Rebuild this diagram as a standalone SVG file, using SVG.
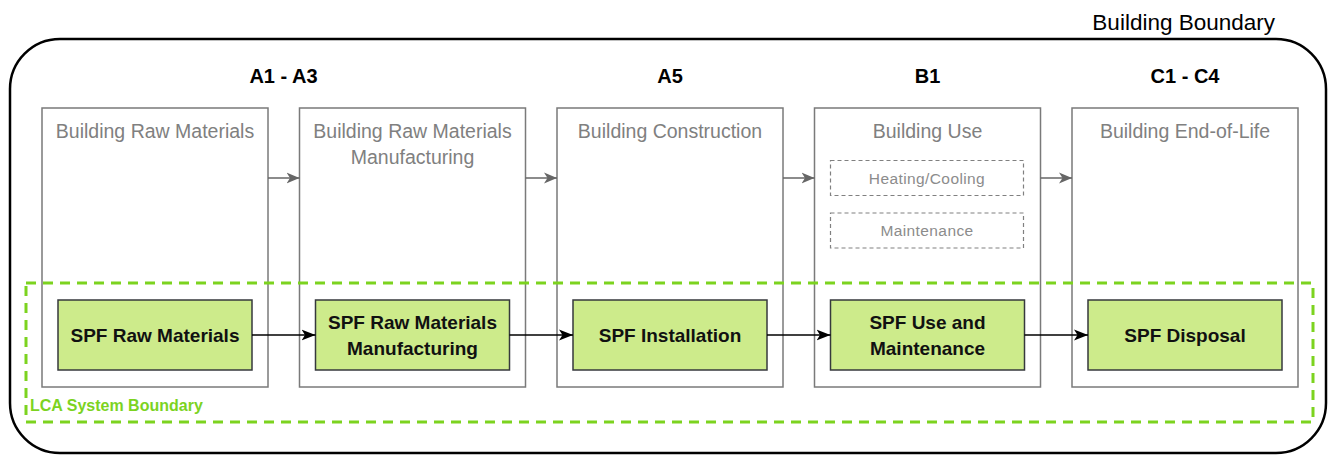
<svg xmlns="http://www.w3.org/2000/svg" width="1330" height="456" viewBox="0 0 1330 456">
<style>
.stage{fill:#ffffff;stroke:#7a7a7a;stroke-width:1.5}
.stitle{font-family:"Liberation Sans",Arial,sans-serif;font-size:19.5px;fill:#808080;text-anchor:middle}
.phase{font-family:"Liberation Sans",Arial,sans-serif;font-size:20px;font-weight:bold;fill:#000000;text-anchor:middle}
.spf{fill:#cdeb8b;stroke:#36393d;stroke-width:1.5}
.spft{font-family:"Liberation Sans",Arial,sans-serif;font-size:19px;font-weight:bold;fill:#111111;text-anchor:middle}
.sub{fill:none;stroke:#808080;stroke-width:1.2;stroke-dasharray:4 3}
.subt{font-family:"Liberation Sans",Arial,sans-serif;font-size:15.5px;fill:#8c8c8c;text-anchor:middle;letter-spacing:0.4px}
.garrow{stroke:#666666;stroke-width:1.5;fill:none}
.barrow{stroke:#000000;stroke-width:1.5;fill:none}
</style>
<defs>
<marker id="ah-gray" markerUnits="userSpaceOnUse" markerWidth="14" markerHeight="12" refX="13" refY="6" orient="auto">
<path d="M0,0.5 L13,6 L0,11.5 L3.5,6 Z" fill="#666666"/>
</marker>
<marker id="ah-black" markerUnits="userSpaceOnUse" markerWidth="15" markerHeight="12" refX="14" refY="6" orient="auto">
<path d="M0,0.5 L14,6 L0,11.5 L3.5,6 Z" fill="#000000"/>
</marker>
</defs>

<g id="building-boundary">
<rect x="10" y="39" width="1316" height="414" rx="50" ry="50" fill="none" stroke="#000000" stroke-width="2.5"/>
<text x="1275" y="30" font-family="'Liberation Sans',Arial,sans-serif" font-size="22.5" fill="#000000" text-anchor="end">Building Boundary</text>
</g>

<g id="phase-labels">
<text class="phase" x="283.5" y="83">A1 - A3</text>
<text class="phase" x="670" y="83">A5</text>
<text class="phase" x="927.5" y="83">B1</text>
<text class="phase" x="1185" y="83">C1 - C4</text>
</g>

<g id="stage-raw">
<rect class="stage" x="42" y="108" width="226" height="279"/>
<text class="stitle" x="155" y="138">Building Raw Materials</text>
</g>
<g id="stage-manufacturing">
<rect class="stage" x="299.5" y="108" width="226" height="279"/>
<text class="stitle" x="412.5" y="138">Building Raw Materials</text>
<text class="stitle" x="412.5" y="164">Manufacturing</text>
</g>
<g id="stage-construction">
<rect class="stage" x="557" y="108" width="226" height="279"/>
<text class="stitle" x="670" y="138">Building Construction</text>
</g>
<g id="stage-use">
<rect class="stage" x="814.5" y="108" width="226" height="279"/>
<text class="stitle" x="927.5" y="138">Building Use</text>
</g>
<g id="stage-eol">
<rect class="stage" x="1072" y="108" width="226" height="279"/>
<text class="stitle" x="1185" y="138">Building End-of-Life</text>
</g>

<g id="heating-cooling">
<rect class="sub" x="830.5" y="160.5" width="193" height="35"/>
<text class="subt" x="927" y="184">Heating/Cooling</text>
</g>
<g id="maintenance">
<rect class="sub" x="830.5" y="213" width="193" height="35"/>
<text class="subt" x="927" y="236">Maintenance</text>
</g>

<g id="lca-system-boundary">
<rect x="26" y="283" width="1287" height="139" fill="none" stroke="#7cd31f" stroke-width="3" stroke-dasharray="10 7"/>
<text x="30" y="411" font-family="'Liberation Sans',Arial,sans-serif" font-size="16" font-weight="bold" fill="#7cd31f">LCA System Boundary</text>
</g>

<g id="spf-raw">
<rect class="spf" x="58" y="300" width="194" height="70"/>
<text class="spft" x="155" y="342">SPF Raw Materials</text>
</g>
<g id="spf-manufacturing">
<rect class="spf" x="315.5" y="300" width="194" height="70"/>
<text class="spft" x="412.5" y="329">SPF Raw Materials</text>
<text class="spft" x="412.5" y="355">Manufacturing</text>
</g>
<g id="spf-installation">
<rect class="spf" x="573" y="300" width="194" height="70"/>
<text class="spft" x="670" y="342">SPF Installation</text>
</g>
<g id="spf-use">
<rect class="spf" x="830.5" y="300" width="194" height="70"/>
<text class="spft" x="927.5" y="329">SPF Use and</text>
<text class="spft" x="927.5" y="355">Maintenance</text>
</g>
<g id="spf-disposal">
<rect class="spf" x="1088" y="300" width="194" height="70"/>
<text class="spft" x="1185" y="342">SPF Disposal</text>
</g>

<g id="connectors">
<line class="garrow" x1="268" y1="178" x2="299.5" y2="178" marker-end="url(#ah-gray)"/>
<line class="garrow" x1="525.5" y1="178" x2="557" y2="178" marker-end="url(#ah-gray)"/>
<line class="garrow" x1="783" y1="178" x2="814.5" y2="178" marker-end="url(#ah-gray)"/>
<line class="garrow" x1="1040.5" y1="178" x2="1072" y2="178" marker-end="url(#ah-gray)"/>
<line class="barrow" x1="252" y1="335" x2="315.5" y2="335" marker-end="url(#ah-black)"/>
<line class="barrow" x1="509.5" y1="335" x2="573" y2="335" marker-end="url(#ah-black)"/>
<line class="barrow" x1="767" y1="335" x2="830.5" y2="335" marker-end="url(#ah-black)"/>
<line class="barrow" x1="1024.5" y1="335" x2="1088" y2="335" marker-end="url(#ah-black)"/>
</g>
</svg>
